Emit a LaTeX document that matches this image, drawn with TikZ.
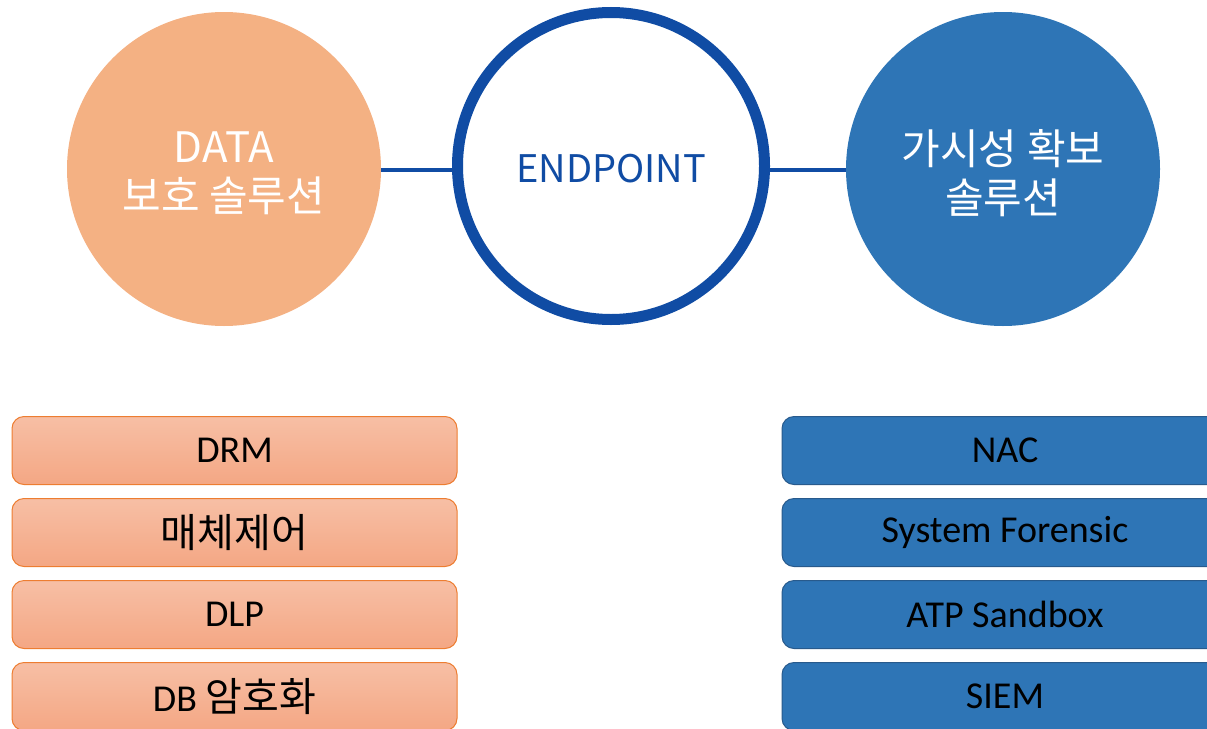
\documentclass[tikz,border=0pt]{standalone}
\usepackage{fontspec}
\setmainfont{Carlito}
\newfontfamily\kr{Noto Sans CJK KR}
\definecolor{orgcirc}{RGB}{244,177,131}
\definecolor{bluecirc}{RGB}{46,117,182}
\definecolor{ringblue}{RGB}{16,76,164}
\definecolor{orgtop}{RGB}{247,191,165}
\definecolor{orgbot}{RGB}{244,167,132}
\definecolor{orgline}{RGB}{237,125,49}
\definecolor{boxblue}{RGB}{46,117,182}
\definecolor{boxblueline}{RGB}{40,90,140}
\begin{document}
\begin{tikzpicture}[x=1pt,y=-1pt,
  bigcirc/.style={circle,minimum size=314pt,inner sep=0pt},
  circtext/.style={align=center,text=white,inner sep=0pt,
    font={\kr\fontsize{42}{49}\selectfont}},
  ring/.style={circle,draw=ringblue,line width=11pt,fill=white,minimum size=307pt,inner sep=0pt},
  ringtext/.style={text=ringblue,inner sep=0pt,font={\kr\fontsize{38}{47}\selectfont}},
  link/.style={ringblue,line width=3.5pt},
  obox/.style={rectangle,rounded corners=12pt,draw=orgline,line width=1pt,
    top color=orgtop,bottom color=orgbot,minimum width=445pt,minimum height=68pt,
    inner sep=0pt,font={\fontsize{38}{44}\selectfont}},
  bbox/.style={rectangle,rounded corners=12pt,draw=boxblueline,line width=1pt,
    fill=boxblue,minimum width=446pt,minimum height=68pt,
    inner sep=0pt,font={\fontsize{38}{44}\selectfont}}
]
\useasboundingbox (0,0) rectangle (1207,728);
\node[bigcirc,fill=orgcirc] (data) at (224,169) {};
\node[circtext] (datat) at (224,173) {DATA\\보호 솔루션};
\node[bigcirc,fill=bluecirc] (vis) at (1003,169) {};
\node[circtext] (vist) at (1003,173) {가시성 확보\\솔루션};
\node[ring] (ep) at (611,166) {};
\node[ringtext] (ept) at (611,169) {ENDPOINT};
\draw[link] (data.east |- 0,170) -- (ep.west |- 0,170);
\draw[link] (ep.east |- 0,170) -- (vis.west |- 0,170);

\node[obox] (drm) at (234.5,450.5) {DRM};
\node[obox] (media) at (234.5,532.5) {\kr\fontsize{40}{44}\selectfont 매체제어};
\node[obox] (dlp) at (234.5,614.5) {DLP};
\node[obox] (dbenc) at (234.5,696.5) {DB {\kr\fontsize{40}{44}\selectfont 암호화}};

\node[bbox] (nac) at (1005,450.5) {NAC};
\node[bbox] (sf) at (1005,532.5) {System Forensic};
\node[bbox] (atp) at (1005,614.5) {ATP Sandbox};
\node[bbox] (siem) at (1005,696.5) {SIEM};
\end{tikzpicture}
\end{document}
